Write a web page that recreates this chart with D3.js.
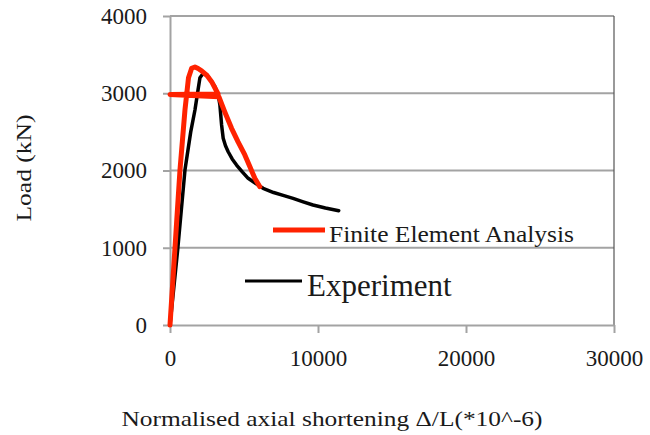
<!DOCTYPE html>
<html>
<head>
<meta charset="utf-8">
<script src="https://cdn.jsdelivr.net/npm/d3@7"></script>
<style>
  html, body { margin: 0; padding: 0; background: #fff; }
  svg { display: block; }
  text { font-family: "Liberation Serif", "Times New Roman", serif; fill: #1a1a1a; }
</style>
</head>
<body>
<svg id="chart" width="650" height="435"></svg>
<script>
// ---- data ----
const xTicks = [0, 10000, 20000, 30000];
const yTicks = [0, 1000, 2000, 3000, 4000];

const feaX = [0, 337, 674, 1011, 1250, 1463, 1686, 1900, 2137, 2500, 2812, 3250, 0, 3300, 3700, 4160, 4600, 5057, 5400, 5732, 6069];
const feaY = [0, 1000, 2006, 2783, 3200, 3323, 3340, 3320, 3290, 3230, 3150, 2990, 2985, 2955, 2760, 2546, 2370, 2201, 2050, 1899, 1790];

const expX = [0, 517, 1011, 1400, 1686, 1900, 2023, 2248, 2500, 2812, 3050, 3257, 3372, 3486, 3594, 3750, 3931, 4200, 4497, 4900, 5280, 5800, 6291, 7000, 7700, 8315, 9000, 9663, 10500, 11400];
const expY = [0, 970, 2006, 2500, 2783, 3050, 3200, 3258, 3235, 3150, 3080, 2977, 2848, 2589, 2417, 2320, 2243, 2150, 2071, 1980, 1899, 1830, 1770, 1715, 1675, 1640, 1595, 1553, 1515, 1480];

const seriesNames = ["Finite Element Analysis", "Experiment"];
const xTitle = "Normalised axial shortening \u0394/L(*10^-6)";
const yTitle = "Load (kN)";

// ---- layout ----
const svg = d3.select("#chart");
const x = d3.scaleLinear().domain([0, 30000]).range([170, 614]);
const y = d3.scaleLinear().domain([0, 4000]).range([325, 16]);
const gridColor = "#a3a3a3";
const serif = "'Liberation Serif', 'Times New Roman', serif";

// gridlines
svg.append("g").selectAll("line").data(yTicks.filter(d => d > 0)).join("line")
  .attr("x1", x(0)).attr("x2", x(30000))
  .attr("y1", d => y(d)).attr("y2", d => y(d))
  .attr("stroke", gridColor).attr("stroke-width", 2);

// right border
svg.append("line").attr("x1", x(30000)).attr("x2", x(30000))
  .attr("y1", y(4000)).attr("y2", y(0))
  .attr("stroke", "#555").attr("stroke-width", 1.2);

// y axis
const yAxis = svg.append("g").attr("transform", `translate(${x(0)},0)`)
  .call(d3.axisLeft(y).tickValues(yTicks).tickFormat(d3.format("d")).tickSize(7).tickPadding(16).tickSizeOuter(0));
yAxis.attr("font-family", null).attr("font-size", null);
yAxis.select(".domain").attr("stroke", gridColor).attr("stroke-width", 2);
yAxis.selectAll(".tick line").attr("stroke", gridColor).attr("stroke-width", 2);
yAxis.selectAll("text").style("font-family", serif).style("font-size", "23px").attr("fill", "#1a1a1a");

// x axis
const xAxis = svg.append("g").attr("transform", `translate(0,${y(0)})`)
  .call(d3.axisBottom(x).tickValues(xTicks).tickFormat(d3.format("d")).tickSize(8).tickPadding(17).tickSizeOuter(0));
xAxis.attr("font-family", null).attr("font-size", null);
xAxis.select(".domain").attr("stroke", gridColor).attr("stroke-width", 2);
xAxis.selectAll(".tick line").attr("stroke", gridColor).attr("stroke-width", 2);
xAxis.selectAll("text").style("font-family", serif).style("font-size", "23px").attr("fill", "#1a1a1a");

// lines
const line = d3.line().x(d => x(d[0])).y(d => y(d[1])).curve(d3.curveLinear);
const expData = expX.map((v, i) => [v, expY[i]]);
const feaData = feaX.map((v, i) => [v, feaY[i]]);

svg.append("path").datum(expData).attr("d", line)
  .attr("fill", "none").attr("stroke", "#000").attr("stroke-width", 3.5)
  .attr("stroke-linejoin", "round").attr("stroke-linecap", "round");
svg.append("path").datum(feaData).attr("d", line)
  .attr("fill", "none").attr("stroke", "#ff2200").attr("stroke-width", 5)
  .attr("stroke-linejoin", "round").attr("stroke-linecap", "round");

// legend
svg.append("line").attr("x1", 273).attr("x2", 325).attr("y1", 230).attr("y2", 230)
  .attr("stroke", "#ff2200").attr("stroke-width", 5);
svg.append("text").attr("x", 329).attr("y", 242).style("font-size", "24px")
  .attr("textLength", 245).attr("lengthAdjust", "spacingAndGlyphs")
  .text(seriesNames[0]);
svg.append("line").attr("x1", 245).attr("x2", 302).attr("y1", 281).attr("y2", 281)
  .attr("stroke", "#000").attr("stroke-width", 3);
svg.append("text").attr("x", 307).attr("y", 296).style("font-size", "31px")
  .text(seriesNames[1]);

// titles
svg.append("text").attr("x", 332).attr("y", 426).style("font-size", "22px")
  .attr("text-anchor", "middle").attr("textLength", 421).attr("lengthAdjust", "spacingAndGlyphs")
  .text(xTitle);
svg.append("text").attr("transform", "translate(31,168) rotate(-90)")
  .style("font-size", "22px").attr("text-anchor", "middle")
  .attr("textLength", 107).attr("lengthAdjust", "spacingAndGlyphs")
  .text(yTitle);
</script>
</body>
</html>
